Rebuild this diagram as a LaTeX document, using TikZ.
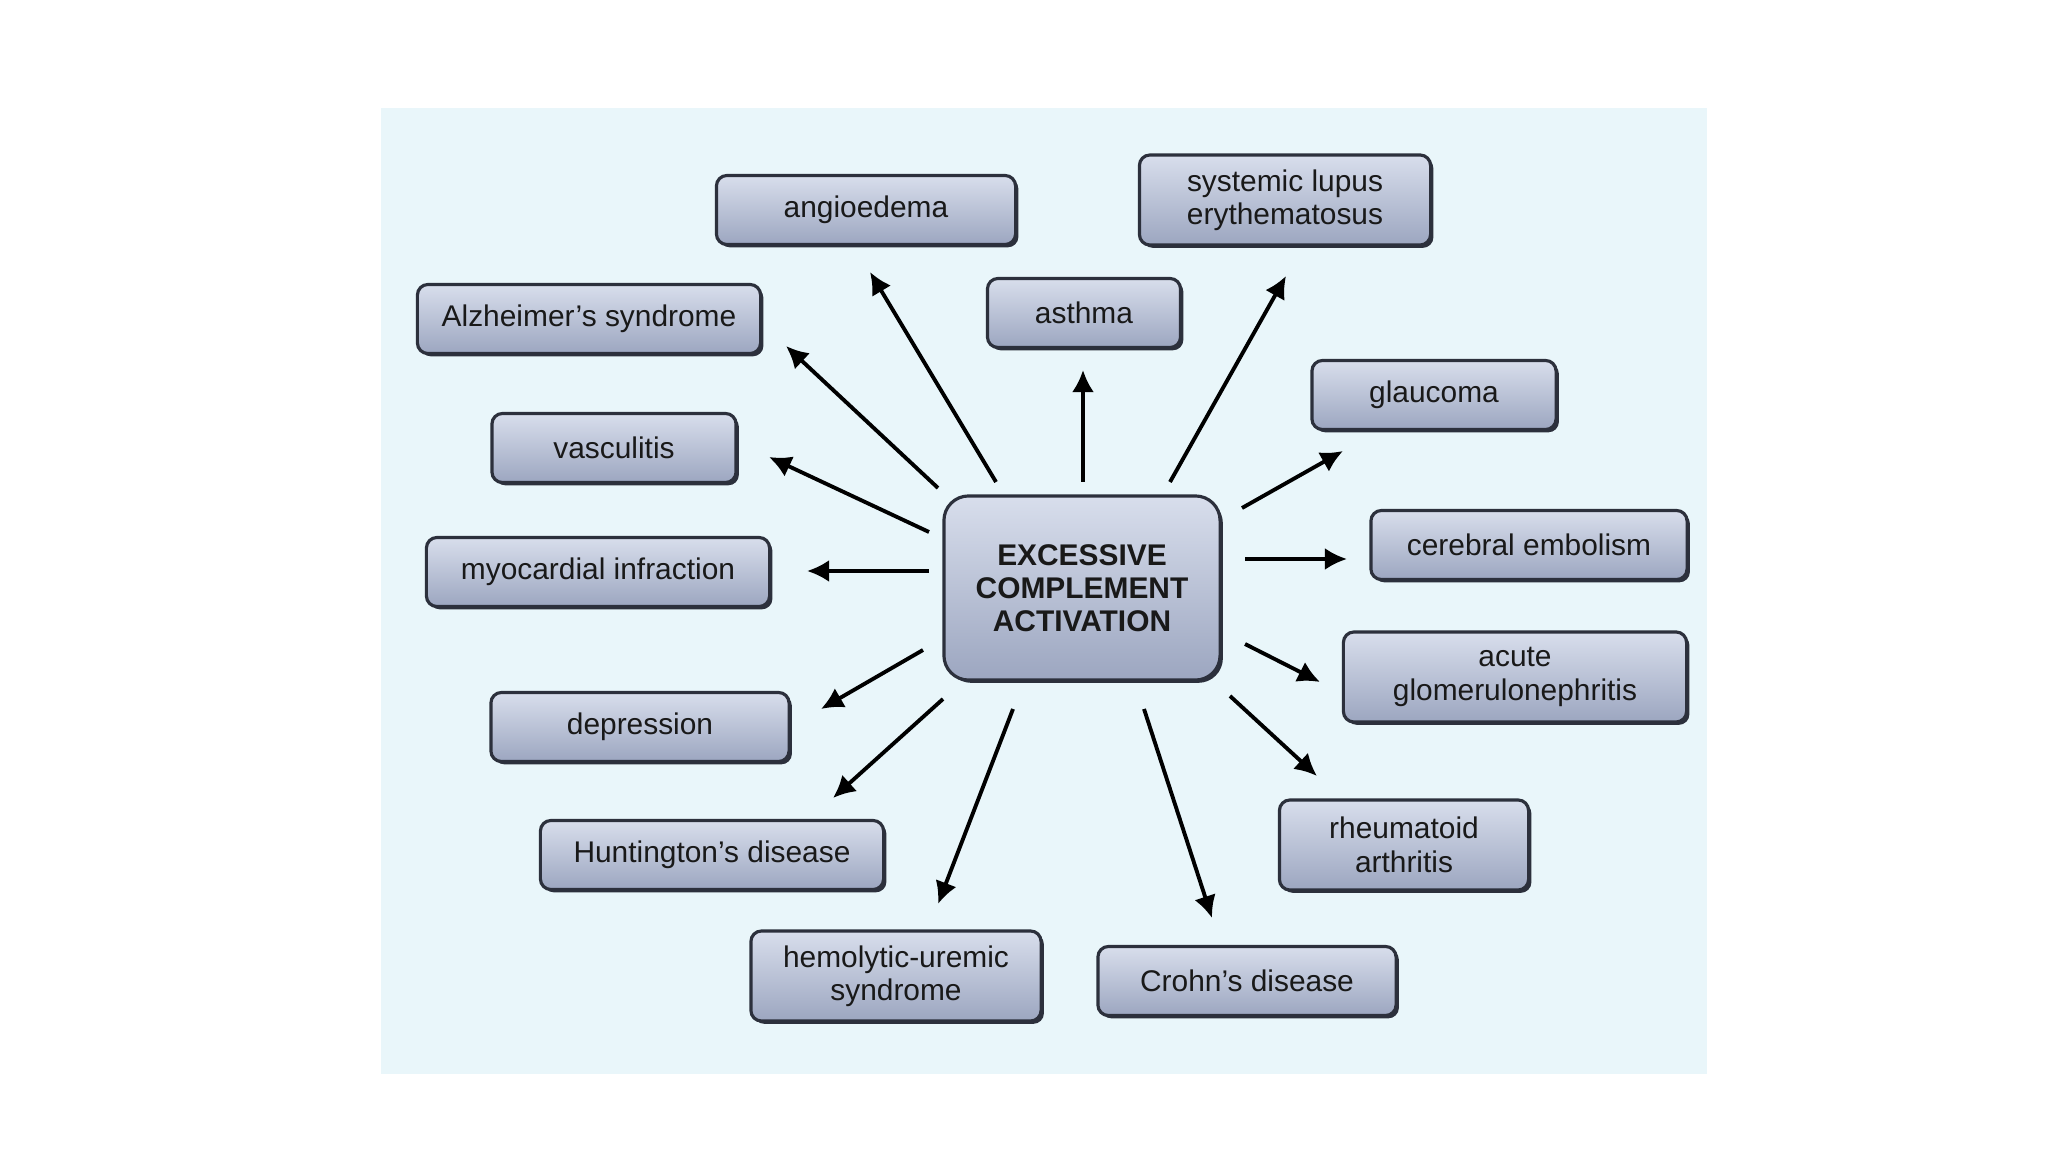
\documentclass[tikz,border=0pt]{standalone}
\usepackage{fontspec}
\setmainfont{Liberation Sans}
\usetikzlibrary{arrows.meta,shadows}
\definecolor{panel}{HTML}{E9F6FA}
\definecolor{boxtop}{HTML}{D8DEEC}
\definecolor{boxbot}{HTML}{9CA6C0}
\definecolor{boxline}{HTML}{2C303C}

\begin{document}
\begin{tikzpicture}[x=0.01cm, y=-0.01cm,
  main/.style={draw=boxline, line width=0.9pt, rounded corners=3pt, top color=boxtop, bottom color=boxbot,
    drop shadow={shadow xshift=0.8pt, shadow yshift=-0.8pt, fill=boxline, opacity=1},
    align=center, text=black!90, font=\fontsize{8.5}{9.5}\selectfont, minimum height=0.69cm, inner sep=0pt},
  two/.style={main, minimum height=0.9cm},
  arr/.style={-{Latex[length=6.3pt,width=6.3pt]}, line width=1.1pt}]
	\fill[white] (0,0) rectangle (2048,1152);
	\fill[panel] (381,108) rectangle (1707,1074);

	\node[main, minimum width=2.76cm, minimum height=1.84cm, rounded corners=7pt, font=\fontsize{8.5}{9.4}\selectfont\bfseries] (0) at (1082,588) {EXCESSIVE\\COMPLEMENT\\ACTIVATION};
	\node[main, minimum width=2.99cm] (1) at (866,210) {angioedema};
	\node[two, minimum width=2.91cm] (2) at (1285,200) {systemic lupus\\erythematosus};
	\node[main, minimum width=1.93cm] (3) at (1084,313) {asthma};
	\node[main, minimum width=3.43cm] (4) at (589,319) {Alzheimer's syndrome};
	\node[main, minimum width=2.44cm] (5) at (1434,395) {glaucoma};
	\node[main, minimum width=2.44cm] (6) at (614,448) {vasculitis};
	\node[main, minimum width=3.16cm] (7) at (1529,545) {cerebral embolism};
	\node[main, minimum width=3.43cm] (8) at (598,572) {myocardial infraction};
	\node[two, minimum width=3.43cm] (9) at (1515,677) {acute\\glomerulonephritis};
	\node[main, minimum width=2.98cm] (10) at (640,727) {depression};
	\node[two, minimum width=2.49cm] (11) at (1404,845) {rheumatoid\\arthritis};
	\node[main, minimum width=3.43cm] (12) at (712,855) {Huntington's disease};
	\node[two, minimum width=2.90cm] (13) at (896,976) {hemolytic-uremic\\syndrome};
	\node[main, minimum width=2.98cm] (14) at (1247,981) {Crohn's disease};

	\coordinate (s1) at (996,482);  \coordinate (e1) at (870,272);
	\coordinate (s2) at (1170,482); \coordinate (e2) at (1286,276);
	\coordinate (s3) at (1083,482); \coordinate (e3) at (1083,370);
	\coordinate (s4) at (938,488);  \coordinate (e4) at (786,346);
	\coordinate (s5) at (1242,508); \coordinate (e5) at (1343,451);
	\coordinate (s6) at (929,532);  \coordinate (e6) at (769,457);
	\coordinate (s7) at (1245,559); \coordinate (e7) at (1347,559);
	\coordinate (s8) at (929,571);  \coordinate (e8) at (807,571);
	\coordinate (s9) at (1245,644); \coordinate (e9) at (1320,682);
	\coordinate (s10) at (923,650); \coordinate (e10) at (821,709);
	\coordinate (s11) at (1230,696); \coordinate (e11) at (1317,776);
	\coordinate (s12) at (943,699); \coordinate (e12) at (833,798);
	\coordinate (s13) at (1013,709); \coordinate (e13) at (938,904);
	\coordinate (s14) at (1144,709); \coordinate (e14) at (1212,918);

	\foreach \i in {1,...,14}
		\draw[arr] (s\i) -- (e\i);
\end{tikzpicture}
\end{document}
